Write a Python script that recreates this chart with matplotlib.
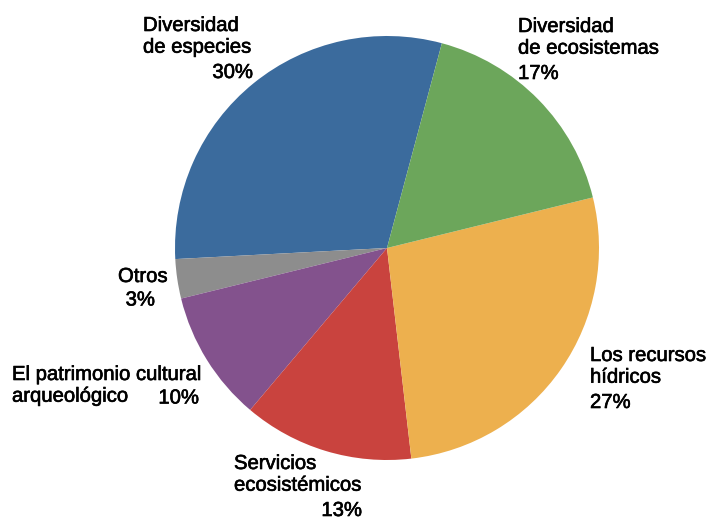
import matplotlib
matplotlib.use('Agg')
import matplotlib.pyplot as plt
import matplotlib.patheffects as pe

# Slice data, counter-clockwise from the top
names = ['Diversidad\nde especies', 'Otros', 'El patrimonio cultural\narqueológico',
         'Servicios\necosistémicos', 'Los recursos\nhídricos', 'Diversidad\nde ecosistemas']
shares = [30, 3, 10, 13, 27, 17]
colors = ['#3B6B9D', '#8D8D8D', '#83528D', '#C9433E', '#EDB04E', '#6CA65B']

# Label placement in pixels: name left edge, name top, percent x, percent alignment, percent line
label_pos = [
    (143, 16, 253, 'right', 2),
    (118, 267, 155, 'right', 1),
    (12, 365, 199, 'right', 1),
    (234, 454, 362, 'right', 2),
    (590, 346, 590, 'left', 2),
    (518, 17, 518, 'left', 2),
]

W, H = 709, 518
fig = plt.figure(figsize=(W / 100, H / 100), dpi=100)
ax = fig.add_axes([175 / W, 1 - 460 / H, 424 / W, 424 / H])
ax.pie(shares, colors=colors, startangle=75, counterclock=True, radius=1.0,
       wedgeprops=dict(linewidth=0))
ax.set_xlim(-1, 1)
ax.set_ylim(-1, 1)
ax.set_aspect('equal')
ax.axis('off')

# slightly heavier strokes give a medium-weight look
bold_fx = [pe.withStroke(linewidth=0.45, foreground='black')]
font = dict(family='Liberation Sans', fontsize=14.6, color='black', path_effects=bold_fx)
line_h = 23.5
for name, share, (x0, y0, px, pha, pline) in zip(names, shares, label_pos):
    fig.text(x0 / W, 1 - y0 / H, name, ha='left', va='top', linespacing=1.18, **font)
    fig.text(px / W, 1 - (y0 + pline * line_h) / H, f'{share}%', ha=pha, va='top', **font)

fig.savefig('out.png', dpi=100)
